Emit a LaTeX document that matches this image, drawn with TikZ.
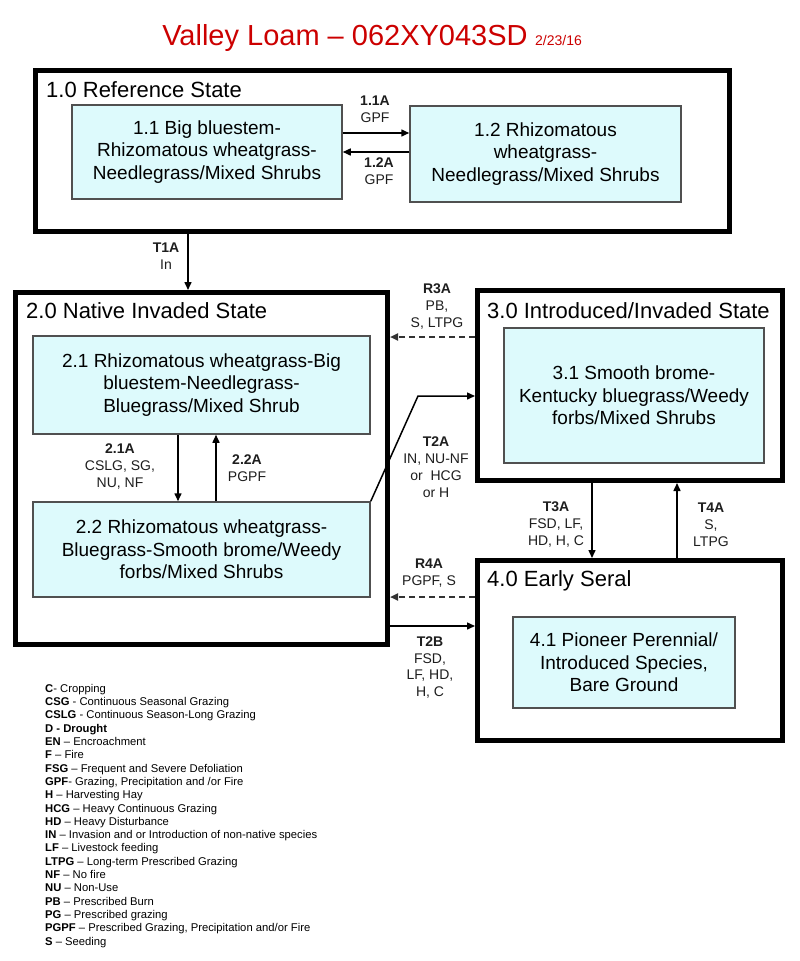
\documentclass[tikz,border=0pt]{standalone}
\usepackage{fontspec}
\setmainfont{Liberation Sans}
\usetikzlibrary{arrows.meta}
\definecolor{boxfill}{RGB}{221,250,252}
\definecolor{boxline}{RGB}{80,80,80}
\definecolor{titlered}{RGB}{204,0,0}
\definecolor{lbl}{RGB}{30,30,30}
\begin{document}
\begin{tikzpicture}[x=1pt,y=-1pt,
  statebox/.style={draw=black,line width=5pt,fill=white,inner sep=0pt},
  innerbox/.style={draw=boxline,line width=1.5pt,fill=boxfill,inner sep=0pt,align=center,
     font=\fontsize{19}{22.5}\selectfont},
  statetitle/.style={anchor=base west,inner sep=0pt,font=\fontsize{22}{26}\selectfont},
  tlabel/.style={align=center,inner sep=0pt,text=lbl,font=\fontsize{14}{16.8}\selectfont},
  arr/.style={line width=1.5pt,-{Triangle[length=8pt,width=7pt]}},
  darr/.style={line width=2pt,draw=black!80,dash pattern=on 6pt off 4pt,-{Triangle[length=8pt,width=7pt]}},
]
\useasboundingbox (0,0) rectangle (800,961);
\fill[white] (0,0) rectangle (800,961);

% title
\node[anchor=base,inner sep=0pt,text=titlered,font=\fontsize{29}{33}\selectfont] (title) at (345,45)
  {Valley Loam -- 062XY043SD};
\node[anchor=base west,inner sep=0pt,text=titlered,font=\fontsize{14}{16}\selectfont] (date) at (535,45) {2/23/16};

% state boxes
\node[statebox,minimum width=694pt,minimum height=161pt] (s1) at (382,150.5) {};
\node[statebox,minimum width=372pt,minimum height=352pt] (s2) at (201.5,468.5) {};
\node[statebox,minimum width=305pt,minimum height=190pt] (s3) at (630,385.5) {};
\node[statebox,minimum width=305pt,minimum height=180pt] (s4) at (630,650.5) {};

\node[statetitle] (t1) at (46,97) {1.0 Reference State};
\node[statetitle] (t2) at (26,318) {2.0 Native Invaded State};
\node[statetitle] (t3) at (487,318) {3.0 Introduced/Invaded State};
\node[statetitle] (t4) at (487,586) {4.0 Early Seral};

% community boxes
\node[innerbox,minimum width=270pt,minimum height=94pt] (b11) at (207,152)
  {1.1 Big bluestem-\\Rhizomatous wheatgrass-\\Needlegrass/Mixed Shrubs};
\node[innerbox,minimum width=271pt,minimum height=96pt] (b12) at (545.5,154)
  {1.2 Rhizomatous\\wheatgrass-\\Needlegrass/Mixed Shrubs};
\node[innerbox,minimum width=337pt,minimum height=98pt] (b21) at (201.5,385)
  {2.1 Rhizomatous wheatgrass-Big\\bluestem-Needlegrass-\\Bluegrass/Mixed Shrub};
\node[innerbox,minimum width=337pt,minimum height=95pt] (b22) at (201.5,549.5)
  {2.2 Rhizomatous wheatgrass-\\Bluegrass-Smooth brome/Weedy\\forbs/Mixed Shrubs};
\node[innerbox,minimum width=260pt,minimum height=135pt] (b31) at (634,395.5)
  {3.1 Smooth brome-\\Kentucky bluegrass/Weedy\\forbs/Mixed Shrubs};
\node[innerbox,minimum width=222pt,minimum height=91pt] (b41) at (624,662.5)
  {4.1 Pioneer Perennial/\\Introduced Species,\\Bare Ground};

% connectors
\draw[arr] (b11.east |- 0,133) -- (b12.west |- 0,133);
\draw[arr] (b12.west |- 0,152) -- (b11.east |- 0,152);
\draw[arr] (s1.south -| 188,0) -- (s2.north -| 188,0);
\draw[arr] (b21.south -| 178,0) -- (b22.north -| 178,0);
\draw[arr] (b22.north -| 216,0) -- (b21.south -| 216,0);
\draw[darr] (s3.west |- 0,337) -- (s2.east |- 0,337);
\coordinate (bend) at (418,396);
\draw[arr] (b22.north east) -- (bend) -- (s3.west |- bend);
\draw[arr] (s3.south -| 592,0) -- (s4.north -| 592,0);
\draw[arr] (s4.north -| 677,0) -- (s3.south -| 677,0);
\draw[darr] (s4.west |- 0,597) -- (s2.east |- 0,597);
\draw[arr] (s2.east |- 0,626) -- (s4.west |- 0,626);

% transition labels
\node[tlabel] (l11) at (375,109) {\textbf{1.1A}\\GPF};
\node[tlabel] (l12) at (379,171.5) {\textbf{1.2A}\\GPF};
\node[tlabel] (lT1) at (166,256) {\textbf{T1A}\\In};
\node[tlabel] (l21) at (120,466.5) {\textbf{2.1A}\\CSLG, SG,\\NU, NF};
\node[tlabel] (l22) at (247,468) {\textbf{2.2A}\\PGPF};
\node[tlabel] (lR3) at (437,306.5) {\textbf{R3A}\\PB,\\S, LTPG};
\node[tlabel] (lT2A) at (436,467) {\textbf{T2A}\\IN, NU-NF\\or\ \ HCG\\or H};
\node[tlabel] (lT3) at (556,524.5) {\textbf{T3A}\\FSD, LF,\\HD, H, C};
\node[tlabel] (lT4) at (711,524.5) {\textbf{T4A}\\S,\\LTPG};
\node[tlabel] (lR4) at (429,573) {\textbf{R4A}\\PGPF, S};
\node[tlabel] (lT2B) at (430,667.5) {\textbf{T2B}\\FSD,\\LF, HD,\\H, C};

% legend
\node[anchor=north west,align=left,inner sep=0pt,font=\fontsize{11.25}{13.3}\selectfont] (legend) at (45,684) {%
\textbf{C}- Cropping\\
\textbf{CSG} - Continuous Seasonal Grazing\\
\textbf{CSLG} - Continuous Season-Long Grazing\\
\textbf{D - Drought}\\
\textbf{EN} -- Encroachment\\
\textbf{F} -- Fire\\
\textbf{FSG} -- Frequent and Severe Defoliation\\
\textbf{GPF}- Grazing, Precipitation and /or Fire\\
\textbf{H} -- Harvesting Hay\\
\textbf{HCG} -- Heavy Continuous Grazing\\
\textbf{HD} -- Heavy Disturbance\\
\textbf{IN} -- Invasion and or Introduction of non-native species\\
\textbf{LF} -- Livestock feeding\\
\textbf{LTPG} -- Long-term Prescribed Grazing\\
\textbf{NF} -- No fire\\
\textbf{NU} -- Non-Use\\
\textbf{PB} -- Prescribed Burn\\
\textbf{PG} -- Prescribed grazing\\
\textbf{PGPF} -- Prescribed Grazing, Precipitation and/or Fire\\
\textbf{S} -- Seeding};
\end{tikzpicture}
\end{document}
